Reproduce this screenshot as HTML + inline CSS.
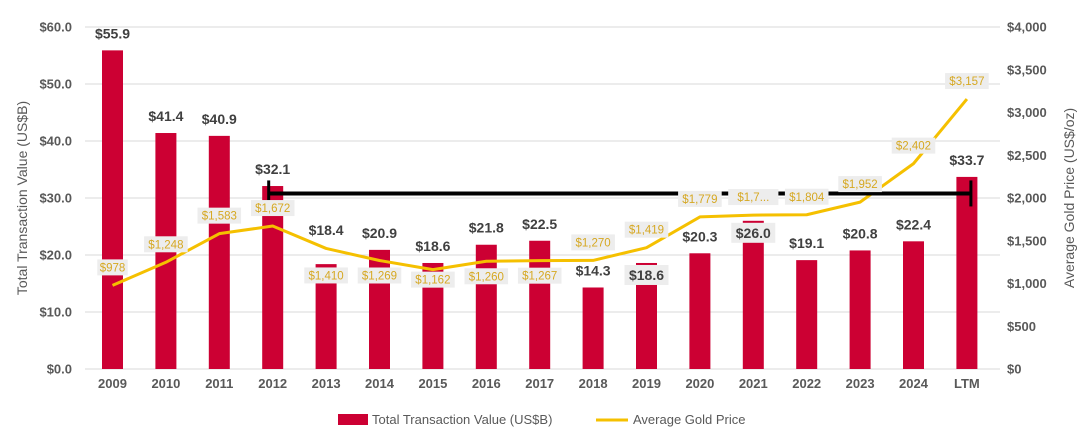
<!DOCTYPE html>
<html><head><meta charset="utf-8"><style>
body{margin:0;background:#fff;font-family:"Liberation Sans",sans-serif}
svg{display:block}
</style></head><body>
<svg id="chart" width="1090" height="442" viewBox="0 0 1090 442" xmlns="http://www.w3.org/2000/svg"></svg>
<script>
const categories=["2009","2010","2011","2012","2013","2014","2015","2016","2017","2018","2019","2020","2021","2022","2023","2024","LTM"];
const txValues=[55.9,41.4,40.9,32.1,18.4,20.9,18.6,21.8,22.5,14.3,18.6,20.3,26.0,19.1,20.8,22.4,33.7];
const goldValues=[978,1248,1583,1672,1410,1269,1162,1260,1267,1270,1419,1779,1800,1804,1952,2402,3157];
const goldLabels=["$978","$1,248","$1,583","$1,672","$1,410","$1,269","$1,162","$1,260","$1,267","$1,270","$1,419","$1,779","$1,7...","$1,804","$1,952","$2,402","$3,157"];
const leftTicks=[0,10,20,30,40,50,60];
const rightTicks=[0,500,1000,1500,2000,2500,3000,3500,4000];
const avgLine=[30.8];
const avgRange=["2012","LTM"];
const goldLabelBelow=["2013","2014","2015","2016","2017"];
const barLabelInside=["2019","2021"];

const NS="http://www.w3.org/2000/svg";
const svg=document.getElementById('chart');
const L=85,STEP=53.4,TOP=27,BOT=369;
const xC=i=>L+STEP*i+27.5;
const yL=v=>BOT-(v/60)*(BOT-TOP);
const yR=v=>BOT-(v/4000)*(BOT-TOP);
function mk(t,a,txt){const e=document.createElementNS(NS,t);for(const k in a)e.setAttribute(k,a[k]);if(txt!==undefined)e.textContent=txt;svg.appendChild(e);return e;}

leftTicks.forEach(v=>{
  const g=mk('line',{x1:L,x2:1000,y1:yL(v),y2:yL(v),stroke:'#d9d9d9','stroke-width':1});
  
  
  const t=mk('text',{x:72,y:yL(v)+4.5,'text-anchor':'end','font-size':13,'font-weight':'bold',fill:'#595959'},'$'+v.toFixed(1));
  
  
});
rightTicks.forEach(v=>{
  const t=mk('text',{x:1007,y:yR(v)+4.5,'font-size':13,'font-weight':'bold',fill:'#595959'},'$'+v.toLocaleString('en-US'));
  
  
});
let t=mk('text',{x:0,y:0,transform:'translate(27,198) rotate(-90)','text-anchor':'middle','font-size':14,fill:'#595959'},'Total Transaction Value (US$B)');


t=mk('text',{x:0,y:0,transform:'translate(1074,198) rotate(-90)','text-anchor':'middle','font-size':14,fill:'#595959'},'Average Gold Price (US$/oz)');



categories.forEach((c,i)=>{
  const b=mk('rect',{x:xC(i)-10.5,y:yL(txValues[i]),width:21,height:BOT-yL(txValues[i]),fill:'#cc0033'});
  
  
  const x=mk('text',{x:xC(i),y:388,'text-anchor':'middle','font-size':13,'font-weight':'bold',fill:'#595959'},c);
  
  
});

const pts=goldValues.map((v,i)=>xC(i)+','+yR(v)).join(' ');
const pl=mk('polyline',{points:pts,fill:'none',stroke:'#f5c000','stroke-width':3,'stroke-linejoin':'round'});



const i0=categories.indexOf(avgRange[0]),i1=categories.indexOf(avgRange[1]);
const ya=yL(avgLine[0]);
const al=mk('line',{x1:xC(i0)-4,x2:xC(i1)+4,y1:ya,y2:ya,stroke:'#000','stroke-width':4});


[xC(i0)-4,xC(i1)+4].forEach(x=>{
  const c=mk('line',{x1:x,x2:x,y1:ya-13,y2:ya+13,stroke:'#000','stroke-width':3});
  
  
});

categories.forEach((c,i)=>{
  const below=goldLabelBelow.includes(c);
  const y=yR(goldValues[i])+(below?(c==="2013"?27:(c==="2015"?10:15)):-18);
  const w=goldLabels[i].length*6.6+4;
  const r=mk('rect',{x:xC(i)-w/2,y:y-8,width:w,height:16,fill:'#ededed'});
  
  
  const tx=mk('text',{x:xC(i),y:y+4,'text-anchor':'middle','font-size':11.5,fill:'#d6a822'},goldLabels[i]);
  
  
});

categories.forEach((c,i)=>{
  const inside=barLabelInside.includes(c);
  const y=yL(txValues[i])+(inside?12:(c==="2013"?-34:-17));
  if(inside){
    const r=mk('rect',{x:xC(i)-22,y:y-10,width:44,height:20,fill:'#ededed'});
    
    
  }
  const tx=mk('text',{x:xC(i),y:y+5,'text-anchor':'middle','font-size':14,'font-weight':'bold',fill:'#404040'},'$'+txValues[i].toFixed(1));
  
  
});

let e=mk('rect',{x:338,y:414,width:30,height:11,fill:'#cc0033'});


e=mk('text',{x:372,y:424,'font-size':13,fill:'#595959'},'Total Transaction Value (US$B)');


e=mk('line',{x1:596,x2:628,y1:420,y2:420,stroke:'#f5c000','stroke-width':3});


e=mk('text',{x:633,y:424,'font-size':13,fill:'#595959'},'Average Gold Price');


</script>
</body></html>
